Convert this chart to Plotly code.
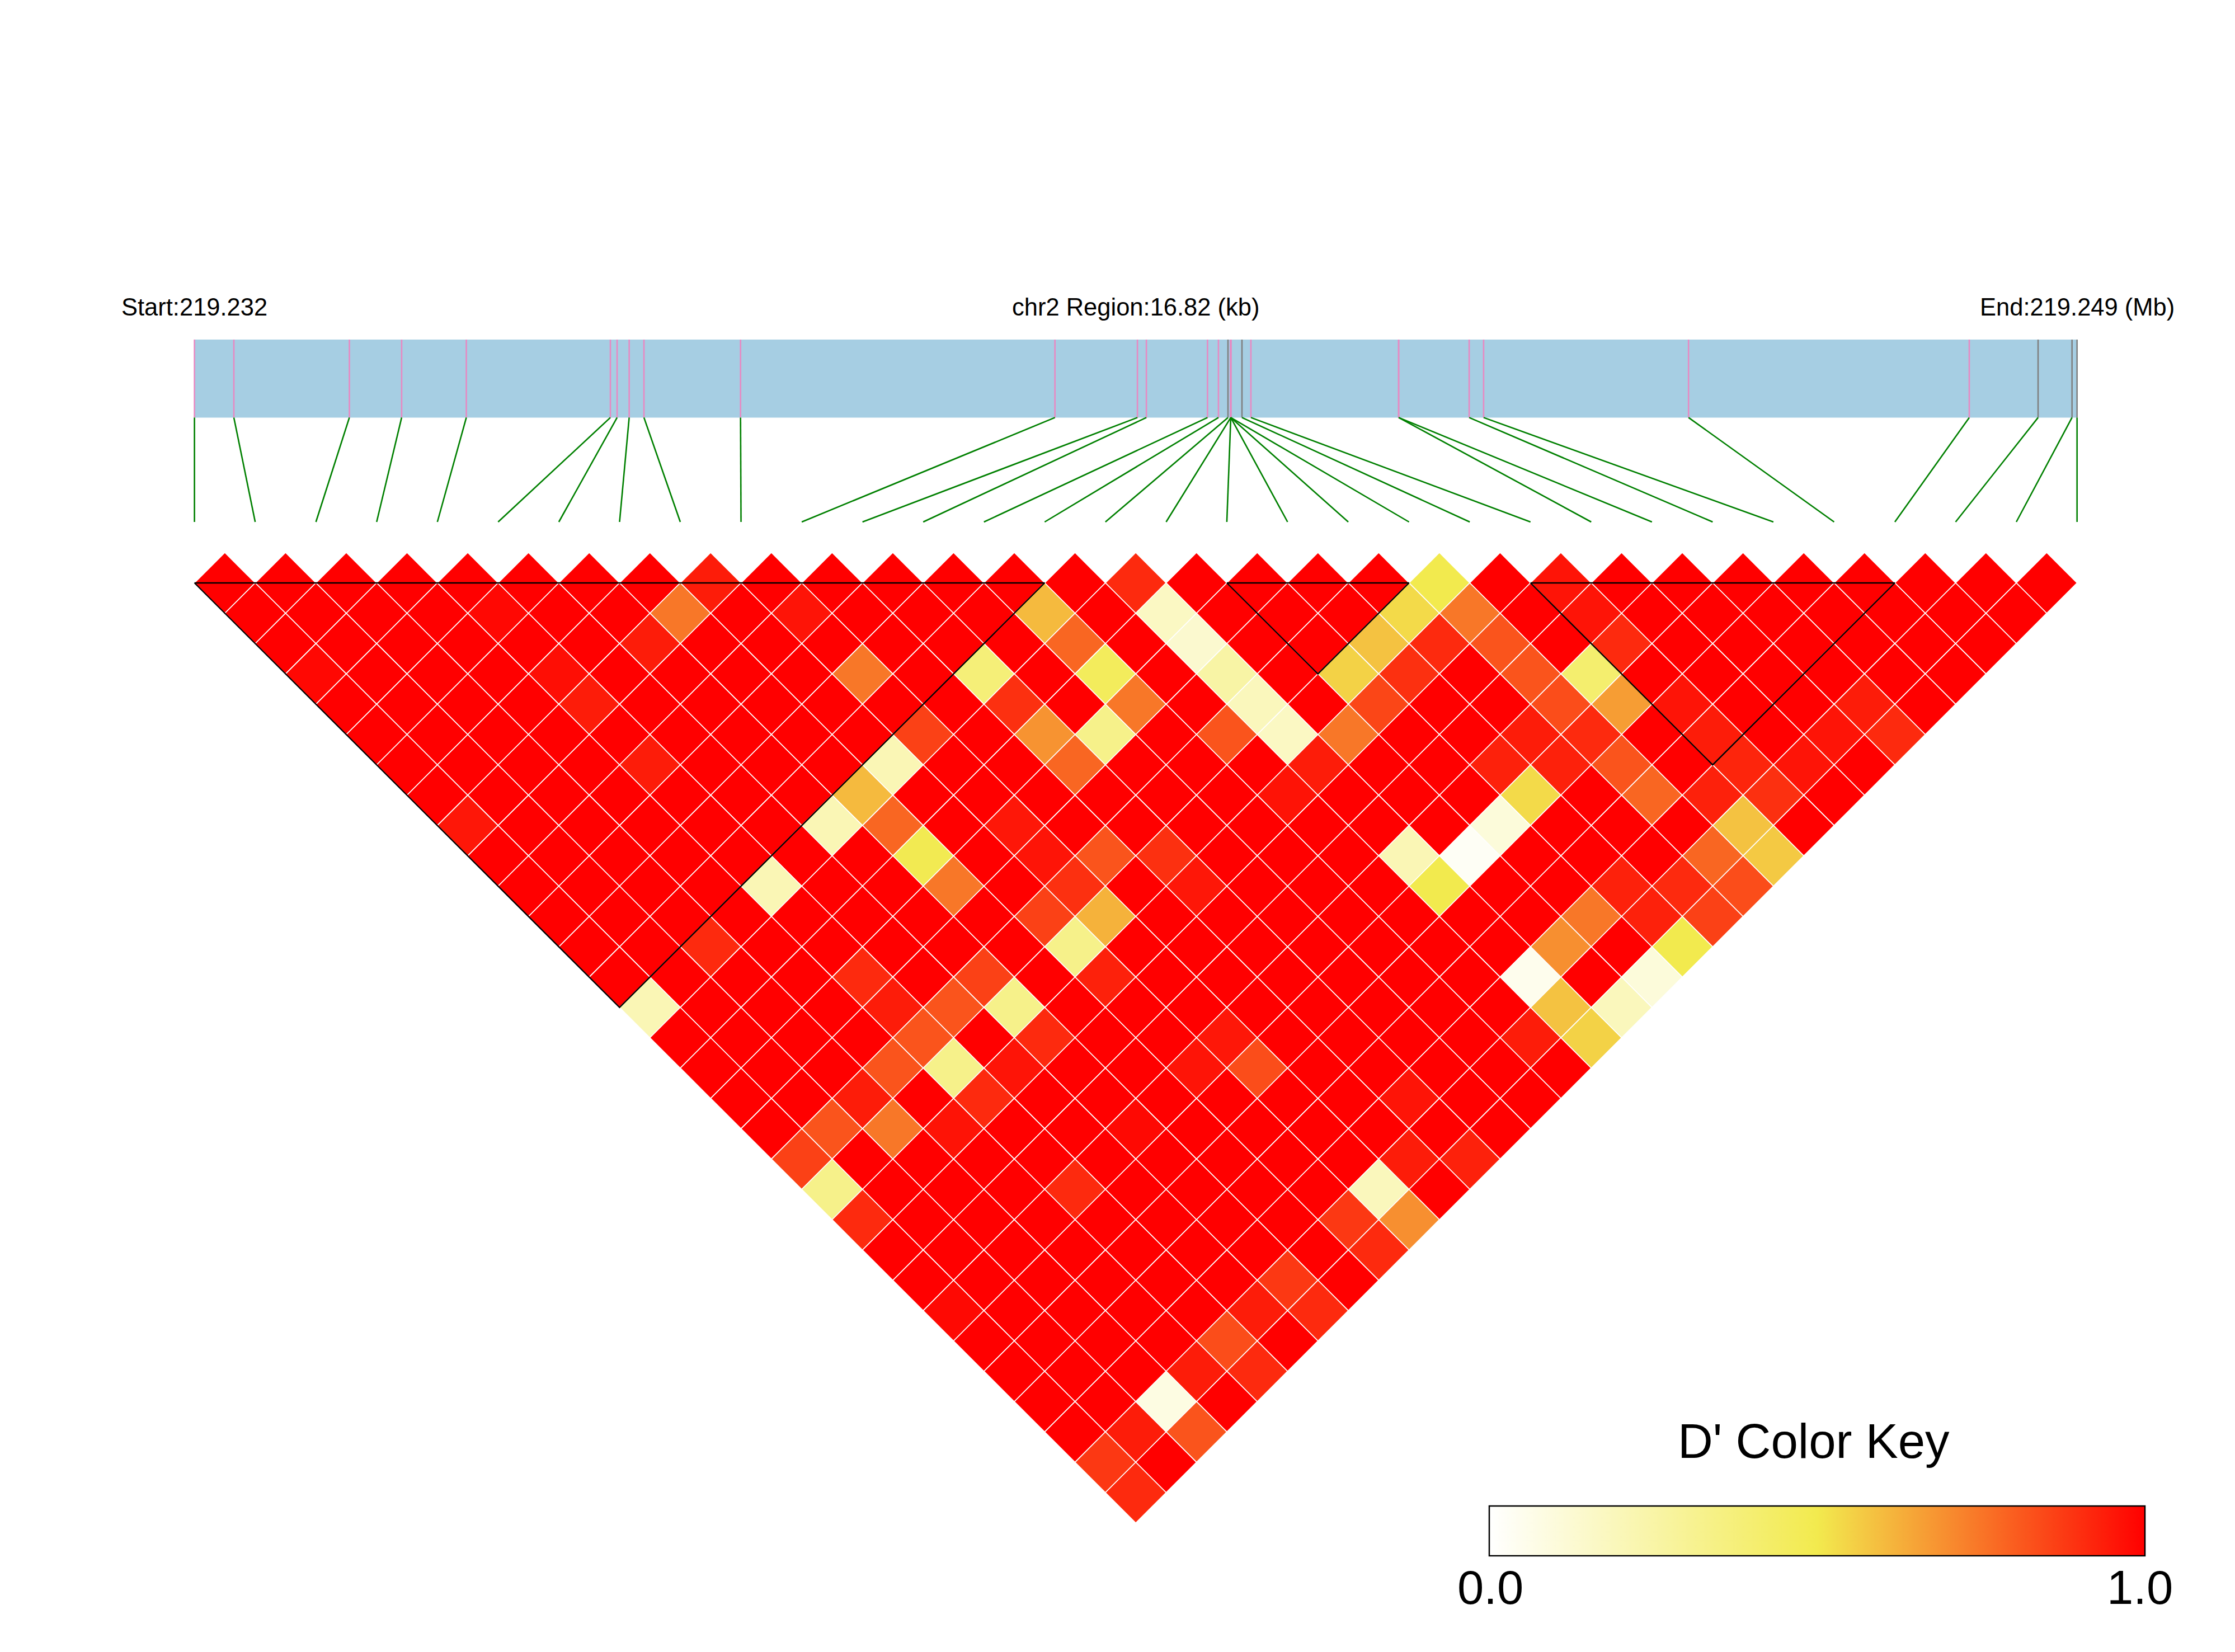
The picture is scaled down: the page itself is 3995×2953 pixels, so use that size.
import plotly.graph_objects as go

# ---------- data ----------
REGION_KB = 16.82
START_LABEL = "Start:219.232"
REGION_LABEL = "chr2 Region:16.82 (kb)"
END_LABEL = "End:219.249 (Mb)"
KEY_TITLE = "D' Color Key"
KEY_MIN_LABEL = "0.0"
KEY_MAX_LABEL = "1.0"

# SNP positions in kb from the region start
snp_kb = [0, 0.352, 1.384, 1.851, 2.429, 3.716, 3.776, 3.884, 4.016, 4.879, 7.688, 8.425,
          8.505, 9.051, 9.149, 9.234, 9.259, 9.259, 9.259, 9.259, 9.259, 9.359, 9.439,
          10.759, 10.759, 11.389, 11.518, 13.349, 15.857, 16.472, 16.775, 16.82]
# 1 = grey tick on the gene bar, 0 = pink tick
snp_grey = [0, 0, 0, 0, 0, 0, 0, 0, 0, 0, 0, 0, 0, 0, 0, 1, 0, 0, 0, 0, 0, 1, 0, 0, 0, 0, 0, 0, 0, 1, 1, 1]

# D' by lag: row k holds pairs (c, c + k + 1)
dprime = [
    [1,1,1,1,1,1,1,1,.94,1,1,1,1,1,1,.91,1,1,1,1,.5,1,.957,1,1,1,1,1,1,1,1],
    [1,1,1,1,.983,1,1,.746,1,.957,1,1,1,.603,1,.17,1,1,1,.534,.746,1,.957,1,1,1,1,1,1,1],
    [1,1,1,1,1,1,.94,1,1,1,1,1,1,.782,1,.137,1,1,.586,.91,.82,1,.91,1,1,1,1,1,1],
    [.983,1,1,1,.97,1,1,1,1,.746,1,.38,1,.46,1,.255,1,.552,.897,1,.82,.41,1,1,1,1,1,1],
    [1,1,1,1,.94,1,1,1,1,1,1,.897,1,.746,1,.19,1,.85,1,1,.836,.664,.957,1,1,.94,1],
    [1,1,1,1,1,1,1,1,1,.862,1,.685,.33,1,.82,.17,.746,1,1,.94,.91,1,.94,1,.957,.91],
    [1,1,1,1,.94,1,1,1,.21,1,1,.782,1,1,1,.94,1,1,.93,.93,.82,1,.92,.957,1],
    [1,1,1,1,1,1,1,.603,1,1,1,1,1,1,.96,1,1,1,.534,1,.782,.93,.897,1],
    [.95,1,1,1,1,1,.21,.782,1,.95,1,1,1,1,1,1,1,.105,1,1,1,.586,1],
    [1,1,1,1,1,1,1,.49,1,.957,.82,.897,1,1,1,.21,.027,1,1,1,.782,.57],
    [1,1,1,1,.21,1,1,.746,1,.897,1,.95,1,1,1,.5,1,1,.93,.91,.836],
    [1,1,1,1,1,1,1,1,.862,.62,1,1,1,1,1,1,1,.746,.93,.862],
    [1,1,.91,1,1,1,1,1,.33,1,1,1,1,1,1,1,.694,1,.5],
    [1,1,1,1,.91,1,.862,1,.93,1,1,1,1,1,1,.05,1,.105],
    [.21,1,1,1,.94,.82,.33,1,1,1,1,1,1,1,1,.586,.19],
    [1,1,1,1,.82,1,.91,1,1,.95,1,1,1,1,.94,.552],
    [1,1,1,.82,.33,.957,1,1,.957,.836,1,1,1,1,1],
    [1,1,.94,1,.91,1,1,1,1,1,1,.957,1,1],
    [1,.82,.746,.96,1,1,.98,1,1,1,1,1,1],
    [.862,1,1,1,1,1,1,1,1,1,.94,.93],
    [.33,1,1,1,.91,1,1,1,1,.19,1],
    [.91,1,1,1,1,1,1,1,.88,.694],
    [1,1,1,1,1,1,1,1,.91],
    [1,1,1,1,1,1,.88,1],
    [.98,1,1,1,1,.94,.91],
    [1,1,1,1,.836,1],
    [1,1,1,.94,.91],
    [1,1,.083,1],
    [1,.94,.82],
    [.88,1],
    [.91],
]

# haplotype blocks as (first SNP, last SNP)
blocks = [(0, 14), (17, 20), (22, 28)]

# ---------- styles and layout ----------
W, H = 3995, 2953
X0, DX = 347.6, 108.55      # px of SNP slot 0, px per slot
Y0, DY = 1042.0, 54.2       # px of lag row 0, px per row
BAR_TOP, BAR_BOT, LINK_END = (607 - Y0) / DY, (746.4 - Y0) / DY, (933 - Y0) / DY
FONT = "Liberation Sans"
n_slots = len(snp_kb) - 1
slot = [k / REGION_KB * n_slots for k in snp_kb]

fig = go.Figure()

# gene bar
fig.add_trace(go.Scatter(x=[slot[0], slot[-1], slot[-1], slot[0], slot[0]],
                         y=[BAR_TOP, BAR_TOP, BAR_BOT, BAR_BOT, BAR_TOP],
                         mode="lines", fill="toself", fillcolor="#A6CEE3",
                         line=dict(width=0), hoverinfo="skip", showlegend=False))

# SNP ticks on the bar
for flag, col in ((0, "#E78AC3"), (1, "#808080")):
    xs, ys = [], []
    for s, g in zip(slot, snp_grey):
        if g == flag:
            xs += [s, s, None]
            ys += [BAR_TOP, BAR_BOT, None]
    fig.add_trace(go.Scatter(x=xs, y=ys, mode="lines", line=dict(color=col, width=2.6),
                             hoverinfo="skip", showlegend=False))

# links from the bar to the SNP slots
lx, ly = [], []
for i, s in enumerate(slot):
    lx += [s, i, None]
    ly += [BAR_BOT, LINK_END, None]
fig.add_trace(go.Scatter(x=lx, y=ly, mode="lines", line=dict(color="#008000", width=2.6),
                         hoverinfo="skip", showlegend=False))

# LD cells
cx, cy, cv = [], [], []
for k, row in enumerate(dprime):
    for c, v in enumerate(row):
        cx.append(c + (k + 1) / 2)
        cy.append(k)
        cv.append(v)

KEY_L, KEY_R, KEY_T, KEY_B = 2661.6, 3834.0, 2692.0, 2781.0
fig.add_trace(go.Scatter(
    x=cx, y=cy, mode="markers", hoverinfo="skip", showlegend=False,
    marker=dict(
        symbol="diamond", size=83.5, color=cv, cmin=0, cmax=1,
        colorscale=[[0, "#FFFFFF"], [0.5, "#F2EA4E"], [1, "#FF0000"]],
        line=dict(color="white", width=1.7),
        colorbar=dict(
            orientation="h", lenmode="pixels", len=KEY_R - KEY_L,
            thicknessmode="pixels", thickness=KEY_B - KEY_T,
            x=(KEY_L + KEY_R) / 2 / W, xanchor="center",
            y=1 - KEY_T / H, yanchor="top", xpad=0, ypad=0,
            outlinewidth=2.5, outlinecolor="black", bgcolor="rgba(0,0,0,0)",
            ticks="", showticklabels=False,
        ),
    ),
))

# block outlines
for a, b in blocks:
    fig.add_trace(go.Scatter(x=[a, b, (a + b) / 2, a], y=[0, 0, b - a, 0], mode="lines",
                             line=dict(color="black", width=2.4), hoverinfo="skip", showlegend=False))

labels = [(0, START_LABEL), (n_slots / 2, REGION_LABEL), (n_slots, END_LABEL)]
anns = [dict(x=x, y=(549 - Y0) / DY, text=t, showarrow=False, xanchor="center", yanchor="middle",
             font=dict(size=43.5, color="black", family=FONT)) for x, t in labels]
for px, py, t, size in ((3242, 2575, KEY_TITLE, 87), (2664, 2837, KEY_MIN_LABEL, 85), (3825, 2837, KEY_MAX_LABEL, 85)):
    anns.append(dict(x=(px - X0) / DX, y=(py - Y0) / DY, text=t, showarrow=False,
                     xanchor="center", yanchor="middle", font=dict(size=size, color="black", family=FONT)))

fig.update_layout(
    width=W, height=H, margin=dict(l=0, r=0, t=0, b=0, autoexpand=False),
    paper_bgcolor="white", plot_bgcolor="white", font=dict(family=FONT), annotations=anns,
    xaxis=dict(range=[-X0 / DX, (W - X0) / DX], visible=False, fixedrange=True),
    yaxis=dict(range=[(H - Y0) / DY, -Y0 / DY], visible=False, fixedrange=True),
)
fig.write_html("out.html", config={"displayModeBar": False}, post_script="document.body.style.margin='0';")
